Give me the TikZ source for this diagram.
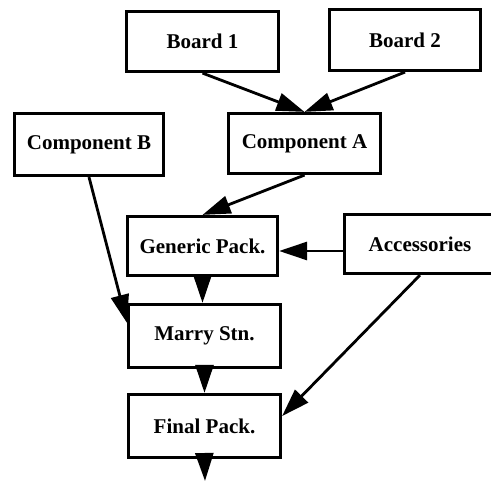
\documentclass[tikz,border=0pt]{standalone}
\usepackage{fontspec}
\setmainfont{Liberation Serif}
\usetikzlibrary{arrows.meta,calc}

\tikzset{
  stage/.style={draw, line width=3.2pt, inner sep=0pt, align=center,
    font=\fontsize{21}{24}\selectfont\bfseries},
  flow/.style={line width=2.8pt, -{Triangle[length=28pt,width=18pt]}},
}

\begin{document}
\begin{tikzpicture}[x=1pt, y=-1pt]
  \useasboundingbox (0,0) rectangle (491,481);

  % process stages
  \node[stage, minimum width=152pt, minimum height=60pt] (board1) at (202.5,41.5) {Board 1};
  \node[stage, minimum width=151pt, minimum height=61pt] (board2) at (405,40) {Board 2};
  \node[stage, minimum width=152pt, minimum height=60pt] (compA) at (304.5,143.5) {Component A};
  \node[stage, minimum width=149pt, minimum height=62pt] (compB) at (89,144.5) {Component B};
  \node[stage, minimum width=150pt, minimum height=59pt] (generic) at (202.5,246) {Generic Pack.};
  \node[stage, minimum width=151pt, minimum height=59pt] (access) at (420,244) {Accessories};
  \node[stage, minimum width=152pt, minimum height=63pt] (marry) at (204.5,336) {Marry Stn.};
  \node[stage, minimum width=152pt, minimum height=63pt] (final) at (204.5,426) {Final Pack.};
  \coordinate (out) at (205,481);

  % material flow
  \draw[flow] (board1.south) -- (compA.north);
  \draw[flow] (board2.south) -- (compA.north);
  \draw[flow] (compA.south) -- (generic.north);
  \draw[flow] (compB.south) -- ($(marry.north west)!0.3!(marry.south west)$);
  \draw[flow] ([yshift=-7pt]access.west) -- ([yshift=-7pt]access.west -| generic.east);
  \draw[flow] (generic.south) -- (generic.south |- marry.north);
  \draw[flow] (access.south) -- ($(final.north east)!0.35!(final.south east)$);
  \draw[flow] (marry.south) -- (final.north);
  \draw[flow] (final.south) -- (out);
\end{tikzpicture}
\end{document}
